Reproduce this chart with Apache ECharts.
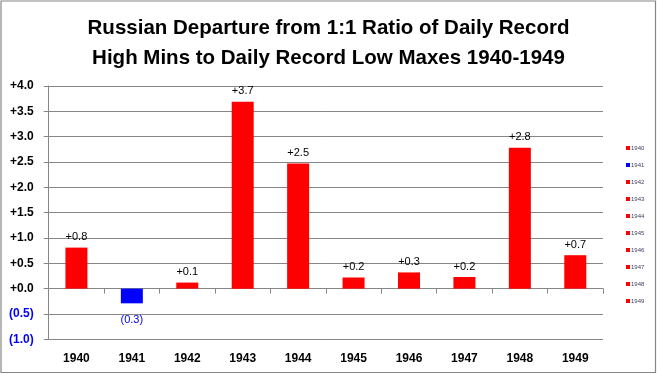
<!DOCTYPE html>
<html><head><meta charset="utf-8">
<script src="https://cdn.jsdelivr.net/npm/echarts@6/dist/echarts.min.js"></script>
<style>html,body{margin:0;padding:0;background:#fff}#c{width:657px;height:374px}</style>
</head><body><div id="c"></div>
<script>
const titleLines = ["Russian Departure from 1:1 Ratio of Daily Record", "High Mins to Daily Record Low Maxes 1940-1949"];
const years = ["1940","1941","1942","1943","1944","1945","1946","1947","1948","1949"];
const values = [0.81, -0.29, 0.12, 3.69, 2.47, 0.22, 0.32, 0.23, 2.78, 0.66];
const barColors = ["#FF0000","#0000FF","#FF0000","#FF0000","#FF0000","#FF0000","#FF0000","#FF0000","#FF0000","#FF0000"];
const yMin = -1, yMax = 4, yStep = 0.5;

function fmt(v){
  const r = Math.round(v*10)/10;
  if (r < 0) return '(' + Math.abs(r).toFixed(1) + ')';
  return '+' + r.toFixed(1);
}

const series = years.map((y, i) => ({
  name: y,
  type: 'bar',
  xAxisIndex: 0,
  barWidth: 22,
  barGap: '-100%',
  itemStyle: { color: barColors[i] },
  label: {
    show: true,
    position: values[i] < 0 ? 'bottom' : 'top',
    distance: values[i] < 0 ? 11 : 5,
    fontFamily: 'Liberation Sans',
    fontSize: 11,
    color: values[i] < 0 ? '#0000FF' : '#000',
    formatter: p => fmt(p.value)
  },
  data: years.map((_, j) => j === i ? values[i] : '-')
}));

const chart = echarts.init(document.getElementById('c'));
chart.setOption({
  animation: false,
  backgroundColor: '#fff',
  title: {
    text: titleLines.join('\n'),
    left: 'center', top: 8,
    textStyle: { fontFamily: 'Liberation Sans', fontWeight: 'bold', fontSize: 20.5, lineHeight: 30, color: '#000' }
  },
  graphic: [{
    type: 'rect', shape: { x: 1, y: 1, width: 654.5, height: 371.5 },
    style: { fill: 'none', stroke: '#868686', lineWidth: 1.2 }, silent: true
  }],
  legend: {
    orient: 'vertical', left: 621, top: 140,
    itemWidth: 4, itemHeight: 4, itemGap: 11,
    icon: 'rect',
    data: years,
    textStyle: { fontSize: 6, color: '#404060', fontFamily: 'Liberation Sans', padding: [0,0,0,-4] }
  },
  grid: { left: 48.7, right: 54, top: 86, bottom: 34.7 },
  xAxis: [{
    type: 'category', data: years,
    axisLine: { onZero: true, lineStyle: { color: '#868686', width: 1 } },
    axisTick: { show: true, length: 5, alignWithLabel: false, lineStyle: { color: '#868686' } },
    axisLabel: { show: false }
  }, {
    type: 'category', data: years, position: 'bottom',
    axisLine: { show: false, onZero: false }, axisTick: { show: false },
    axisLabel: { margin: 13, fontFamily: 'Liberation Sans', fontWeight: 'bold', fontSize: 12, color: '#000' }
  }],
  yAxis: {
    type: 'value', min: yMin, max: yMax, interval: yStep,
    axisLine: { show: true, lineStyle: { color: '#868686' } },
    axisTick: { show: true, length: 5, lineStyle: { color: '#868686' } },
    splitLine: { show: true, lineStyle: { color: '#868686', width: 1 } },
    axisLabel: {
      margin: 15, fontFamily: 'Liberation Sans', fontWeight: 'bold', fontSize: 12,
      formatter: v => fmt(v),
      color: v => (v < 0 ? '#0000FF' : '#000')
    }
  },
  series: series
});
</script></body></html>
